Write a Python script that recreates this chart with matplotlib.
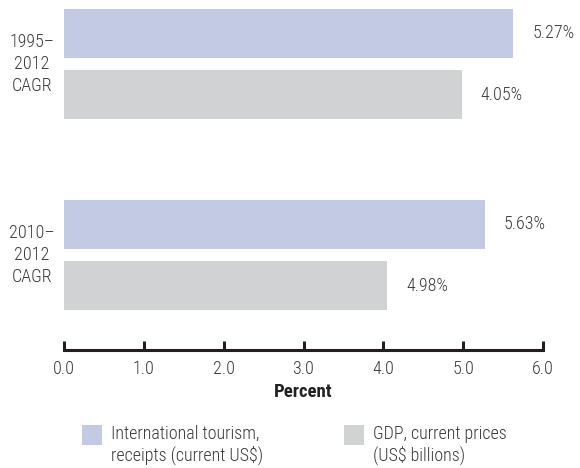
import matplotlib
matplotlib.use("Agg")
import matplotlib.pyplot as plt
from matplotlib import font_manager
from matplotlib.patches import Rectangle

# data
periods = ["1995–\n2012\nCAGR", "2010–\n2012\nCAGR"]
tourism = [5.63, 5.27]          # bar lengths as drawn
gdp = [4.98, 4.05]
tourism_labels = ["5.27%", "5.63%"]   # printed labels
gdp_labels = ["4.05%", "4.98%"]
series_names = ["International tourism,\nreceipts (current US$)",
                "GDP, current prices\n(US$ billions)"]
xticks = [0.0, 1.0, 2.0, 3.0, 4.0, 5.0, 6.0]

BLUE = "#c3cae4"
GRAY = "#d1d2d4"
TEXT = "#3a3a3a"
AXIS = "#231f20"

# pick a condensed face if one is there
names = {f.name for f in font_manager.fontManager.ttflist}
family = ["DejaVu Sans"]
for cand in ["Roboto Condensed", "Archivo Narrow", "Liberation Sans Narrow"]:
    if cand in names:
        family = [cand, "DejaVu Sans"]
        break
plt.rcParams["font.family"] = family
if family[0] == "DejaVu Sans":
    plt.rcParams["font.stretch"] = "condensed"
plt.rcParams["font.size"] = 13
plt.rcParams["font.weight"] = "light"
plt.rcParams["text.color"] = TEXT

fig = plt.figure(figsize=(5.8, 4.68), dpi=100)
ax = fig.add_axes([64 / 580, 1 - 350 / 468, (543 - 64) / 580, 350 / 468])

pos = [0, 1]
h = 0.2565
off = 0.16
for i, p in enumerate(pos):
    ax.barh(p - off, tourism[i], height=h, color=BLUE, linewidth=0)
    ax.barh(p + off, gdp[i], height=h, color=GRAY, linewidth=0)
    ax.annotate(tourism_labels[i], (tourism[i], p - off), xytext=(19, 0),
                textcoords="offset pixels", ha="left", va="center",
                annotation_clip=False)
    ax.annotate(gdp_labels[i], (gdp[i], p + off), xytext=(19, 0),
                textcoords="offset pixels", ha="left", va="center",
                annotation_clip=False)
    ax.text(-0.40, p, periods[i], ha="center", va="center",
            multialignment="center", linespacing=1.3, clip_on=False)

ax.set_xlim(0, 6)
ax.set_ylim(1.497, -0.335)
ax.set_yticks([])
for s in ["top", "right", "left"]:
    ax.spines[s].set_visible(False)
ax.spines["bottom"].set_linewidth(2.2)
ax.spines["bottom"].set_color(AXIS)
ax.set_xticks(xticks)
ax.set_xticklabels([f"{t:.1f}" for t in xticks])
ax.tick_params(axis="x", direction="in", length=6.5, width=2.2, color=AXIS,
               pad=7, labelcolor=TEXT)
ax.set_xlabel("Percent", fontweight="bold", fontsize=13.5, labelpad=4,
              color="#222222")

# legend
for i, (name, col) in enumerate(zip(series_names, [BLUE, GRAY])):
    x0 = [82, 344][i]
    fig.patches.append(Rectangle((x0 / 580, 1 - 445 / 468), 20 / 580, 20 / 468,
                                 transform=fig.transFigure, color=col,
                                 linewidth=0))
    fig.text((x0 + 29) / 580, 1 - 425 / 468, name, ha="left", va="top",
             linespacing=1.2)

fig.savefig("out.png", dpi=100)
